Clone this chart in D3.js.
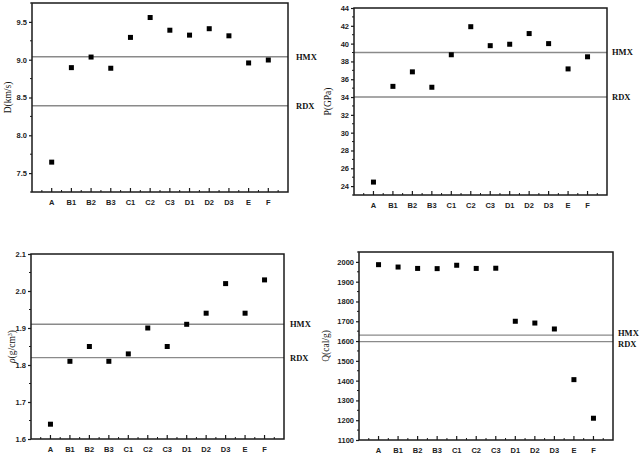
<!DOCTYPE html>
<html><head><meta charset="utf-8">
<script src="https://cdn.jsdelivr.net/npm/d3@7"></script>
<style>
html,body{margin:0;padding:0;background:#fff;}
svg{display:block;}
</style></head>
<body>
<svg id="chart" width="640" height="455"></svg>
<script>
const categories = ["A","B1","B2","B3","C1","C2","C3","D1","D2","D3","E","F"];

const detVelocity = [7.645, 8.895, 9.035, 8.887, 9.295, 9.558, 9.39, 9.325, 9.41, 9.316, 8.957, 8.996];
const detPressure = [24.45, 35.2, 36.83, 35.1, 38.75, 41.9, 39.77, 39.93, 41.13, 40.0, 37.16, 38.52];
const density     = [1.64, 1.81, 1.85, 1.81, 1.83, 1.90, 1.85, 1.91, 1.94, 2.02, 1.94, 2.03];
const heat        = [1986, 1974, 1967, 1966, 1983, 1967, 1968, 1700, 1691, 1661, 1405, 1210];

const refNames = ["HMX","RDX"];
const refD   = [9.04, 8.39];
const refP   = [39.0, 34.0];
const refRho = [1.91, 1.82];
const refQ   = [1630, 1597];

const ticksD   = [7.5, 8.0, 8.5, 9.0, 9.5];
const ticksP   = [24,26,28,30,32,34,36,38,40,42,44];
const ticksRho = [1.6,1.7,1.8,1.9,2.0,2.1];
const ticksQ   = [1100,1200,1300,1400,1500,1600,1700,1800,1900,2000];

const panels = [
  {values: detVelocity, refs: refD, ticks: ticksD, minorStep: 0.25, domain:[7.25,9.75], fmt: d3.format(".1f"),
   title: "D(km/s)", box:{l:32,r:288,t:3,b:192}, titleX:8, labelGap:8},
  {values: detPressure, refs: refP, ticks: ticksP, minorStep: 1, domain:[23,44], fmt: d3.format("d"),
   title: "P(GPa)", box:{l:354,r:607,t:8,b:195}, titleX:328, labelGap:5},
  {values: density, refs: refRho, ticks: ticksRho, minorStep: 0.05, domain:[1.6,2.1], fmt: d3.format(".1f"),
   title: "rho", box:{l:31,r:284,t:254,b:439}, titleX:12, labelGap:6},
  {values: heat, refs: refQ, ticks: ticksQ, minorStep: 50, domain:[1100,2050], fmt: d3.format("d"),
   title: "Q(cal/g)", box:{l:359,r:613,t:252,b:440}, titleX:326, labelGap:5}
];

const svg = d3.select("#chart");
const axisColor = "#1a1a1a";

panels.forEach(p => {
  const b = p.box;
  const g = svg.append("g");
  const x = d3.scaleLinear().domain([0, categories.length + 1]).range([b.l, b.r]);
  const y = d3.scaleLinear().domain(p.domain).range([b.b, b.t]);

  // reference lines
  const ly = p.refs.map(v => y(v));
  if (Math.abs(ly[1] - ly[0]) < 11) {
    const mid = (ly[0] + ly[1]) / 2 + 0.5;
    ly[0] = mid - 5.5; ly[1] = mid + 5.5;
  }
  p.refs.forEach((v, i) => {
    g.append("line").attr("x1", b.l).attr("x2", b.r).attr("y1", y(v)).attr("y2", y(v))
      .attr("stroke", "#8a8a8a").attr("stroke-width", 1.4);
    g.append("text").attr("x", b.r + p.labelGap).attr("y", ly[i]).attr("dy", "0.35em")
      .attr("font-family", "'Liberation Serif','Times New Roman',serif").attr("font-weight", "bold")
      .attr("font-size", 8.5).attr("fill", "#111").text(refNames[i]);
  });

  // frame
  g.append("rect").attr("x", b.l).attr("y", b.t).attr("width", b.r - b.l).attr("height", b.b - b.t)
    .attr("fill", "none").attr("stroke", axisColor).attr("stroke-width", 1.5);

  // y axis major ticks + labels
  const yAxis = d3.axisLeft(y).tickValues(p.ticks).tickSize(3).tickPadding(2).tickFormat(p.fmt);
  const ya = g.append("g").attr("transform", `translate(${b.l},0)`).call(yAxis);
  ya.select(".domain").remove();
  ya.selectAll("line").attr("stroke", axisColor).attr("stroke-width", 1.2);
  ya.selectAll("text").attr("font-family", "'Liberation Sans',Arial,sans-serif").attr("font-weight", "bold")
    .attr("font-size", 7.5).attr("fill", "#222");

  // y minor ticks
  const minors = [];
  for (let v = p.domain[0]; v <= p.domain[1] + 1e-9; v += p.minorStep) {
    const vv = Math.round(v * 1000) / 1000;
    if (!p.ticks.some(t => Math.abs(t - vv) < 1e-6)) minors.push(vv);
  }
  g.selectAll(null).data(minors).enter().append("line")
    .attr("x1", b.l - 2).attr("x2", b.l).attr("y1", d => y(d)).attr("y2", d => y(d))
    .attr("stroke", axisColor).attr("stroke-width", 1);

  // x axis ticks
  const xMajor = categories.map((c, i) => i + 1);
  const xMinor = d3.range(0.5, categories.length + 1, 1);
  g.selectAll(null).data(xMajor).enter().append("line")
    .attr("x1", d => x(d)).attr("x2", d => x(d)).attr("y1", b.b).attr("y2", b.b - 4)
    .attr("stroke", axisColor).attr("stroke-width", 1.2);
  g.selectAll(null).data(xMinor).enter().append("line")
    .attr("x1", d => x(d)).attr("x2", d => x(d)).attr("y1", b.b).attr("y2", b.b - 2)
    .attr("stroke", axisColor).attr("stroke-width", 1);
  g.selectAll(null).data(categories).enter().append("text")
    .attr("x", (d, i) => x(i + 1)).attr("y", b.b + 10).attr("dy", "0.35em")
    .attr("text-anchor", "middle")
    .attr("font-family", "'Liberation Sans',Arial,sans-serif").attr("font-weight", "bold")
    .attr("font-size", 7.5).attr("fill", "#222").text(d => d);

  // points
  const s = 5;
  g.selectAll(null).data(p.values).enter().append("rect")
    .attr("x", (d, i) => x(i + 1) - s / 2).attr("y", d => y(d) - s / 2)
    .attr("width", s).attr("height", s).attr("fill", "#000");

  // y title
  const cy = (b.t + b.b) / 2;
  const t = g.append("text").attr("transform", `translate(${p.titleX},${cy}) rotate(-90)`)
    .attr("text-anchor", "middle").attr("dy", "0.35em")
    .attr("font-family", "'Liberation Serif','Times New Roman',serif")
    .attr("font-size", 9.5).attr("fill", "#111");
  if (p.title === "rho") {
    t.append("tspan").attr("font-style", "italic").text("ρ");
    t.append("tspan").text("(g/cm");
    t.append("tspan").attr("baseline-shift", "super").attr("font-size", 6).text("3");
    t.append("tspan").text(")");
  } else {
    t.text(p.title);
  }
});
</script>
</body></html>
